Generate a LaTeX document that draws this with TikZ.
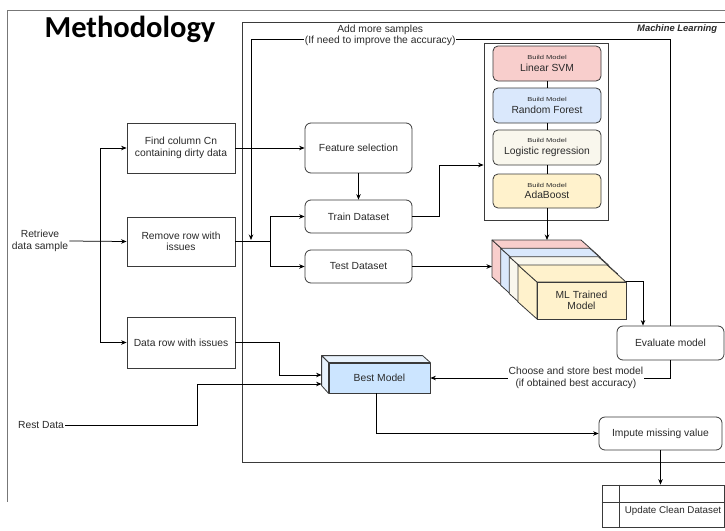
\documentclass[tikz,border=0pt]{standalone}
\usepackage{fontspec}
\setmainfont{Liberation Sans}
\newfontfamily\headfont{Carlito}
\usetikzlibrary{arrows.meta,calc}

\definecolor{edge}{HTML}{3A3A3A}
\definecolor{txt}{HTML}{2A2A2A}
\definecolor{framegray}{HTML}{777777}
\definecolor{svmfill}{HTML}{F8CECC}
\definecolor{rffill}{HTML}{DAE8FC}
\definecolor{lrfill}{HTML}{F9F7ED}
\definecolor{adafill}{HTML}{FFF2CC}
\definecolor{bestfill}{HTML}{CCE5FF}
\definecolor{bestside}{HTML}{E8F2FC}

\newcommand\buildlbl{\scalebox{1.3}[1]{\fontsize{5.8}{8}\selectfont Build Model}}
% one slab of the stacked trained-model block: back-top-left corner and fill
\newcommand\mlslab[3]{%
  \filldraw[slab,fill=#3] (#1,#2) -- ++(19,17) -- ++(0,37) -- ++(-19,-17) -- cycle;
  \filldraw[slab,fill=#3] (#1,#2) -- ++(89,0) -- ++(19,17) -- ++(-89,0) -- cycle;
  \filldraw[slab,fill=#3] (#1,#2) ++(19,17) rectangle ++(89,37);}

\begin{document}
\begin{tikzpicture}[x=1pt,y=-1pt,
  every node/.style={font=\fontsize{10.3}{11.5}\selectfont, text=txt, inner sep=1pt},
  box/.style={draw=edge, line width=0.8pt, minimum width=108, minimum height=50, align=center},
  rbox/.style={box, rounded corners=6pt, minimum width=107},
  mbox/.style={box, rounded corners=5pt, minimum width=108, minimum height=35},
  slab/.style={draw=edge, line width=0.8pt, line join=round},
  frame/.style={draw=framegray, line width=0.8pt},
  mlframe/.style={draw=edge, line width=0.9pt},
  ln/.style={draw=black, line width=0.75pt},
  arr/.style={ln, -{Stealth[length=5.5pt,width=4.5pt]}},
  lbl/.style={fill=white, align=center, inner sep=1pt},
]
\useasboundingbox (0,0) rectangle (725,530);
\fill[white] (0,0) rectangle (725,530);

% outer page frame and machine-learning frame
\draw[frame] (725,10) -- (7,10) -- (7,502);
\draw[mlframe] (725,22) -- (242,22) -- (242,462) -- (725,462);

\node[font=\headfont\bfseries\fontsize{30.5}{32}\selectfont, text=black] (title) at (130,29) {Methodology};
\node[font=\bfseries\itshape\fontsize{9.4}{10}\selectfont, anchor=west] (mltitle) at (636,29) {Machine Learning};

% inputs
\node[align=center] (retrieve) at (40,241) {Retrieve\\data sample};
\node (rest) at (41,425) {Rest Data};

% cleaning steps
\node[box] (find) at (181,148) {Find column Cn\\containing dirty data};
\node[box, minimum height=49] (remove) at (181,241.5) {Remove row with\\issues};
\node[box, minimum height=51] (datarow) at (181,342.5) {Data row with issues};

% feature selection and split
\node[rbox] (feat) at (358.5,148) {Feature selection};
\node[rbox, minimum height=33] (train) at (358.5,216.5) {Train Dataset};
\node[rbox, minimum height=33] (test) at (358.5,266.5) {Test Dataset};

% model builders
\node[box, minimum width=124, minimum height=177] (models) at (546,131.5) {};
\node[mbox, fill=svmfill] (svm) at (547,63.5) {\buildlbl\\Linear SVM};
\node[mbox, fill=rffill] (rf) at (547,105.5) {\buildlbl\\Random Forest};
\node[mbox, fill=lrfill] (lr) at (547,147.5) {\buildlbl\\Logistic regression};
\node[mbox, fill=adafill, minimum height=34] (ada) at (547,191) {\buildlbl\\AdaBoost};

% stacked trained-model block
\mlslab{492}{240}{svmfill}
\mlslab{500.7}{248.3}{rffill}
\mlslab{509.3}{256.7}{lrfill}
\mlslab{518}{265}{adafill}
\node[draw=edge, line width=0.8pt, fill=adafill, minimum width=89, minimum height=37, align=center]
  (mlfront) at (581.5,300.5) {ML Trained\\Model};
\coordinate (mltop) at (547,240);
\coordinate (mlside) at (492,266.5);

% evaluation, best model, imputation
\node[rbox, minimum height=34] (eval) at (670.5,343) {Evaluate model};
\node[rbox, minimum width=123, minimum height=33] (impute) at (660.5,433.5) {Impute missing value};

\node[draw=edge, line width=0.8pt, fill=bestfill, minimum width=101, minimum height=30] (best) at (379.5,378) {Best Model};
\filldraw[slab, fill=bestside] (best.north west) -- ++(-7,-7) -- ++(101,0) -- (best.north east) -- cycle;
\filldraw[slab, fill=bestside] (best.north west) -- ++(-7,-7) -- ++(0,30) -- (best.south west) -- cycle;

% internal-storage shape for the cleaned dataset
\node[draw=edge, line width=0.8pt, minimum width=122, minimum height=42,
  label={[font=\fontsize{9.8}{11}\selectfont, xshift=10pt, yshift=-5pt]center:Update Clean Dataset}]
  (update) at (663,506) {};
\draw[slab] (update.north west) ++(18,0) -- ++(0,42);
\draw[slab] (update.north west) ++(0,18) -- ++(122,0);

% connectors
\coordinate (split) at (100,241);
\coordinate (split2) at (270,241.5);
\coordinate (loopc) at (251,39);
\coordinate (loopend) at (251,240);

\draw[arr] (retrieve.east) -- (remove.west);
\draw[arr] (split) |- (find.west);
\draw[arr] (split) |- (datarow.west);
\draw[arr] (find.east) -- (feat.west);
\draw[arr] (feat.south) -- (train.north);
\draw[ln] (remove.east) -- (split2);
\draw[arr] (split2) |- (train.west);
\draw[arr] (split2) |- (test.west);
\draw[arr] (train.east) -- ++(27,0) |- ([yshift=-33.5pt]models.west);
\draw[ln] (svm.south) -- (rf.north);
\draw[ln] (rf.south) -- (lr.north);
\draw[ln] (lr.south) -- (ada.north);
\draw[arr] (ada.south) -- (mltop);
\draw[arr] (test.east) -- (mlside);
\draw[arr] (mlfront.north east) -| ([xshift=-27.5pt]eval.north);
\draw[arr] (eval.north) |- (loopc)
  node[lbl, pos=0.846, yshift=3.5pt] {Add more samples\\(If need to improve the accuracy)}
  -- (loopend);
\draw[arr] (eval.south) |- node[lbl, pos=0.697] {Choose and store best model\\(if obtained best accuracy)} (best.east);
\draw[arr] (datarow.east) -- (279,342.5) |- ([xshift=-7pt,yshift=3pt]best.west);
\draw[arr] (rest.east) -- (197,425) |- ([xshift=-7pt,yshift=-6pt]best.west);
\draw[arr] ([xshift=-3.5pt]best.south) |- (impute.west);
\draw[arr] (impute.south) -- (impute.south |- update.north);
\end{tikzpicture}
\end{document}
